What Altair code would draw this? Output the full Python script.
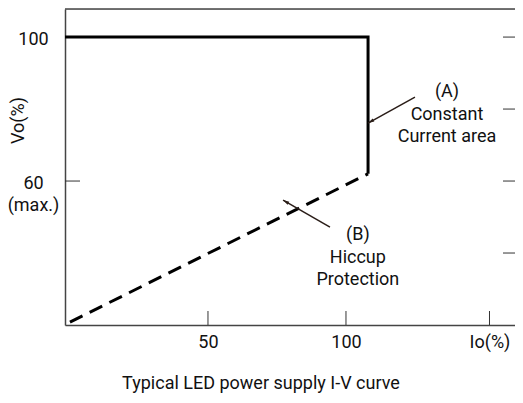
import altair as alt
import pandas as pd

# ---- data ----
cc_x = [-1.8, 108, 108]          # constant-current (solid) curve, Io %
cc_y = [100, 100, 62]             # Vo %
hic_x = [0, 108]                  # hiccup (dashed) line
hic_y = [20.8, 62]

y_tick_vals = [100, 60]
y_tick_labels = ["100", "60\n(max.)"]
right_tick_vals = [100, 80, 60, 40]
x_tick_vals = [50, 100, 152]
x_tick_labels = ["50", "100", "Io(%)"]

ann_text = ["(A)\nConstant\nCurrent area", "(B)\nHiccup\nProtection"]
ann_x = [136.6, 104.3]
ann_y = [83.3, 43.5]

arrow_x = [125, 108, 94.2, 77.2]
arrow_y = [83.3, 76.1, 47.2, 54.7]
arrow_id = ["A", "A", "B", "B"]
head_x = [108, 77.2]
head_y = [76.1, 54.7]
head_angle = [241, 300]

title_text = ["Typical LED power supply I-V curve"]
title_x = [69.2]
title_y = [2.3]

FONT = "Roboto"
FS = 18
W, H = 450, 316
XD = [-1.8, 161.24]
YD = [20, 107.8]

xs = alt.Scale(domain=XD, nice=False, zero=False)
ys = alt.Scale(domain=YD, nice=False, zero=False)

lab_expr = "datum.value == 60 ? ['60', '(max.)'] : '100'"

solid = alt.Chart(pd.DataFrame({"x": cc_x, "y": cc_y, "o": [0, 1, 2]})).mark_line(
    color="#000", strokeWidth=3, strokeJoin="miter"
).encode(
    x=alt.X("x:Q", scale=xs, axis=alt.Axis(
        values=x_tick_vals, labelExpr="datum.value == 152 ? 'Io(%)' : datum.label",
        tickSize=0, grid=False, title=None, domainColor="#444", domainWidth=1.5,
        labelFont=FONT, labelFontSize=FS, labelColor="#111", labelPadding=8,
        labelBaseline="top")),
    y=alt.Y("y:Q", scale=ys, axis=alt.Axis(
        values=y_tick_vals, labelExpr=lab_expr, tickSize=0, grid=False,
        title="Vo(%)", titleFont=FONT, titleFontSize=FS, titleFontWeight="normal",
        titleColor="#111", titleX=-47, titleY=111, titleAlign="center",
        titleBaseline="middle", titleAngle=270,
        domainColor="#444", domainWidth=1.5,
        labelFont=FONT, labelFontSize=FS, labelColor="#111", labelPadding=32,
        labelAlign="center", labelBaseline="alphabetic", labelOffset=7,
        labelLineHeight=22)),
    order="o:Q",
)

dashed = alt.Chart(pd.DataFrame({"x": hic_x, "y": hic_y})).mark_line(
    color="#000", strokeWidth=3, strokeDash=[14, 8]
).encode(x=alt.X("x:Q", scale=xs), y=alt.Y("y:Q", scale=ys))

top_rule = alt.Chart(pd.DataFrame({"a": [0]})).mark_rule(color="#444", strokeWidth=1.5).encode(
    x=alt.value(0), x2=alt.value(W), y=alt.value(0))

left_ticks = alt.Chart(pd.DataFrame({"y": y_tick_vals})).mark_rule(color="#333", strokeWidth=1).encode(
    y=alt.Y("y:Q", scale=ys), x=alt.value(0), x2=alt.value(15))

right_ticks = alt.Chart(pd.DataFrame({"y": right_tick_vals})).mark_rule(color="#333", strokeWidth=1).encode(
    y=alt.Y("y:Q", scale=ys), x=alt.value(W - 12), x2=alt.value(W))

bottom_ticks = alt.Chart(pd.DataFrame({"x": x_tick_vals})).mark_rule(color="#333", strokeWidth=1).encode(
    x=alt.X("x:Q", scale=xs), y=alt.value(H - 14), y2=alt.value(H))

arrows = alt.Chart(pd.DataFrame({"x": arrow_x, "y": arrow_y, "id": arrow_id})).mark_line(
    color="#2a1d18", strokeWidth=1.5
).encode(x=alt.X("x:Q", scale=xs), y=alt.Y("y:Q", scale=ys), detail="id:N")

heads = alt.Chart(pd.DataFrame({"x": head_x, "y": head_y, "a": head_angle})).mark_point(
    shape="M0,0L-0.45,1.6L0.45,1.6Z", filled=True, color="#2a1d18", size=60, opacity=1
).encode(x=alt.X("x:Q", scale=xs), y=alt.Y("y:Q", scale=ys), angle=alt.Angle("a:Q", scale=None))

ann = alt.Chart(pd.DataFrame({"x": ann_x, "y": ann_y, "t": ann_text})).mark_text(
    font=FONT, fontSize=FS, color="#111", align="center", baseline="alphabetic",
    lineBreak="\n", lineHeight=22.5
).encode(x=alt.X("x:Q", scale=xs), y=alt.Y("y:Q", scale=ys), text="t:N")

title = alt.Chart(pd.DataFrame({"x": title_x, "y": title_y, "t": title_text})).mark_text(
    font=FONT, fontSize=FS, color="#111", align="center", baseline="alphabetic"
).encode(x=alt.X("x:Q", scale=xs), y=alt.Y("y:Q", scale=ys), text="t:N")

chart = alt.layer(
    top_rule, left_ticks, right_ticks, bottom_ticks, dashed, solid, arrows, heads, ann, title
).properties(
    width=W, height=H,
    autosize=alt.AutoSizeParams(type="none"),
    padding={"left": 57, "top": 1, "right": 0, "bottom": 70},
).configure_view(stroke=None).configure(background="white")

chart.save("out.html", embed_options={"renderer": "svg", "actions": False})
